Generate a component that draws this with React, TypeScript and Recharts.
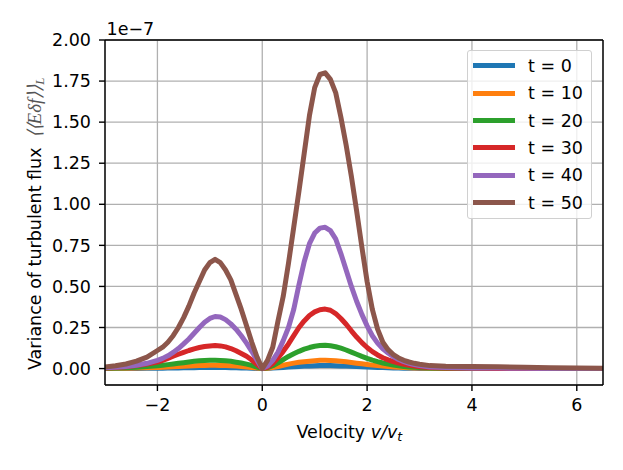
import React from "react";
import { LineChart, Line, XAxis, YAxis, CartesianGrid, ReferenceLine } from "recharts";

const velocity = [
  -3.0, -2.8, -2.6, -2.4, -2.2,
  -2.0, -1.9, -1.8, -1.7, -1.6, -1.5, -1.4, -1.3, -1.2, -1.1,
  -1.0, -0.9, -0.8, -0.7, -0.6, -0.5, -0.4, -0.3, -0.2, -0.1,
  0.0, 0.1, 0.2, 0.3, 0.4, 0.5, 0.6, 0.7, 0.8, 0.9,
  1.0, 1.1, 1.2, 1.3, 1.4, 1.5, 1.6, 1.7, 1.8, 1.9,
  2.0, 2.1, 2.2, 2.3, 2.4, 2.5, 2.6, 2.7, 2.8, 2.9,
  3.0, 3.2, 3.5, 4.0, 4.5, 5.0, 5.5, 6.0, 6.5,
];

const fluxT0 = [
  0.0003, 0.0005, 0.0008, 0.001, 0.0015,
  0.002, 0.0025, 0.003, 0.0035, 0.004, 0.0045, 0.005, 0.0055, 0.006, 0.006,
  0.0065, 0.0065, 0.006, 0.006, 0.0055, 0.005, 0.004, 0.003, 0.002, 0.001,
  0, 0.001, 0.003, 0.005, 0.007, 0.009, 0.011, 0.013, 0.015, 0.016,
  0.017, 0.018, 0.018, 0.018, 0.017, 0.016, 0.015, 0.014, 0.012, 0.011,
  0.009, 0.008, 0.007, 0.006, 0.005, 0.004, 0.003, 0.0025, 0.002, 0.0015,
  0.001, 0.0007, 0.0004, 0, 0, 0, 0, 0, 0,
];

const fluxT10 = [
  0.001, 0.0015, 0.002, 0.003, 0.005,
  0.007, 0.008, 0.0095, 0.011, 0.0125, 0.014, 0.0155, 0.017, 0.018, 0.019,
  0.0195, 0.0195, 0.019, 0.018, 0.017, 0.015, 0.013, 0.01, 0.007, 0.0035,
  0, 0.002, 0.007, 0.013, 0.02, 0.027, 0.033, 0.038, 0.042, 0.045,
  0.048, 0.05, 0.05, 0.049, 0.047, 0.044, 0.041, 0.037, 0.033, 0.029,
  0.025, 0.021, 0.018, 0.015, 0.012, 0.01, 0.008, 0.006, 0.005, 0.004,
  0.003, 0.002, 0.001, 0, 0, 0, 0, 0, 0,
];

const fluxT20 = [
  0.002, 0.003, 0.005, 0.008, 0.012,
  0.017, 0.02, 0.024, 0.028, 0.032, 0.036, 0.04, 0.044, 0.047, 0.049,
  0.05, 0.05, 0.049, 0.047, 0.044, 0.039, 0.034, 0.027, 0.019, 0.009,
  0, 0.005, 0.017, 0.035, 0.055, 0.074, 0.09, 0.105, 0.118, 0.128,
  0.136, 0.14, 0.142, 0.139, 0.133, 0.124, 0.113, 0.1, 0.087, 0.074,
  0.062, 0.051, 0.042, 0.034, 0.027, 0.022, 0.017, 0.013, 0.01, 0.008,
  0.006, 0.003, 0.002, 0.001, 0.001, 0, 0, 0, 0,
];

const fluxT30 = [
  0.004, 0.007, 0.011, 0.018, 0.028,
  0.04, 0.05, 0.062, 0.075, 0.087, 0.099, 0.11, 0.12, 0.128, 0.134,
  0.138, 0.14, 0.138, 0.132, 0.122, 0.108, 0.092, 0.075, 0.052, 0.025,
  0, 0.008, 0.03, 0.065, 0.105, 0.15, 0.2, 0.25, 0.29, 0.323,
  0.345, 0.358, 0.362, 0.355, 0.335, 0.305, 0.27, 0.23, 0.192, 0.158,
  0.128, 0.103, 0.083, 0.066, 0.053, 0.042, 0.033, 0.026, 0.02, 0.015,
  0.011, 0.006, 0.003, 0.002, 0.001, 0.001, 0.001, 0.001, 0.001,
];

const fluxT40 = [
  0.005, 0.008, 0.013, 0.02, 0.032,
  0.05, 0.062, 0.078, 0.098, 0.122, 0.15, 0.18, 0.215, 0.25, 0.282,
  0.305, 0.317, 0.314, 0.298, 0.272, 0.24, 0.2, 0.155, 0.105, 0.05,
  0, 0.015, 0.05, 0.1, 0.17, 0.25, 0.36, 0.51, 0.65, 0.76,
  0.825, 0.855, 0.86, 0.84, 0.79, 0.7, 0.6, 0.5, 0.41, 0.33,
  0.26, 0.2, 0.155, 0.12, 0.095, 0.073, 0.055, 0.042, 0.032, 0.024,
  0.018, 0.01, 0.006, 0.004, 0.003, 0.002, 0.001, 0.001, 0.001,
];

const fluxT50 = [
  0.01, 0.017, 0.028, 0.045, 0.07,
  0.11, 0.13, 0.16, 0.2, 0.25, 0.31, 0.38, 0.46, 0.53, 0.6,
  0.645, 0.665, 0.645, 0.6, 0.54, 0.45, 0.36, 0.26, 0.16, 0.07,
  0, 0.05, 0.13, 0.29, 0.44, 0.64, 0.86, 1.08, 1.31, 1.54,
  1.71, 1.79, 1.8, 1.76, 1.68, 1.53, 1.36, 1.17, 0.96, 0.74,
  0.53, 0.36, 0.24, 0.16, 0.115, 0.085, 0.065, 0.05, 0.04, 0.032,
  0.026, 0.018, 0.014, 0.013, 0.011, 0.008, 0.005, 0.003, 0.002,
];

const seriesNames = ["t = 0", "t = 10", "t = 20", "t = 30", "t = 40", "t = 50"];
const seriesKeys = ["t0", "t10", "t20", "t30", "t40", "t50"];
const seriesColors = ["#1f77b4", "#ff7f0e", "#2ca02c", "#d62728", "#9467bd", "#8c564b"];
const seriesValues = [fluxT0, fluxT10, fluxT20, fluxT30, fluxT40, fluxT50];

const xTicks = [-2, 0, 2, 4, 6];
const yTicks = [0, 0.25, 0.5, 0.75, 1.0, 1.25, 1.5, 1.75, 2.0];

const data = velocity.map((v, i) => {
  const row: Record<string, number> = { v };
  seriesKeys.forEach((k, s) => {
    row[k] = seriesValues[s][i];
  });
  return row;
});

const FONT = "'DejaVu Sans', sans-serif";
const FS = 17.5;

const fmtX = (v: number) => String(v).replace("-", "\u2212");
const fmtY = (v: number) => v.toFixed(2);

const XLabel = () => (
  <text x={296.5} y={437.5} fontFamily={FONT} fontSize={FS} fill="#000">
    Velocity <tspan fontStyle="italic">v</tspan>
    <tspan fontStyle="italic">/v</tspan>
    <tspan fontStyle="italic" fontSize={12.5} dy={3}>t</tspan>
  </text>
);

const YLabel = () => (
  <g>
    <text
      transform="translate(41,370) rotate(-90)"
      x={0}
      y={0}
      fontFamily={FONT}
      fontSize={FS}
      fill="#000"
    >
      Variance of turbulent flux
      <tspan dx={9} fontFamily="'Liberation Serif', serif" fontStyle="italic" fontSize={19} fill="#555">
        {"\u27E8\u27E8E\u03B4f\u27E9\u27E9"}
      </tspan>
      <tspan fontFamily="'Liberation Serif', serif" fontStyle="italic" fontSize={13} fill="#555" dy={3}>
        L
      </tspan>
    </text>
    <text x={106.5} y={35} fontFamily={FONT} fontSize={FS} fill="#000">
      1e{"\u2212"}7
    </text>
  </g>
);

const LegendBox = () => (
  <div
    style={{
      position: "absolute",
      left: 467,
      top: 50,
      width: 125,
      height: 169,
      boxSizing: "border-box",
      border: "1px solid #d0d0d0",
      borderRadius: 3,
      background: "rgba(255,255,255,0.8)",
      fontFamily: FONT,
      fontSize: FS,
      color: "#000",
    }}
  >
    {seriesNames.map((name, i) => (
      <div
        key={name}
        style={{
          position: "absolute",
          left: 0,
          top: 14.7 + i * 27.4 - 12,
          height: 24,
          display: "flex",
          alignItems: "center",
          whiteSpace: "nowrap",
        }}
      >
        <div style={{ marginLeft: 5, width: 42, height: 5, background: seriesColors[i] }} />
        <span style={{ marginLeft: 13, lineHeight: "24px" }}>{name}</span>
      </div>
    ))}
  </div>
);

export default function App() {
  return (
    <div style={{ position: "absolute", left: 0, top: 0, width: 623, height: 470, background: "#fff" }}>
      <LineChart
        width={623}
        height={470}
        data={data}
        margin={{ top: 40, right: 20, bottom: 0, left: 0 }}
      >
        <CartesianGrid stroke="#b0b0b0" strokeWidth={1.3} vertical horizontal />
        <XAxis
          dataKey="v"
          type="number"
          domain={[-3, 6.5]}
          ticks={xTicks}
          tickFormatter={fmtX}
          height={85}
          tickSize={6}
          tickMargin={8}
          stroke="#000"
          strokeWidth={1.4}
          tick={{ fontSize: FS, fill: "#000", fontFamily: FONT }}
          allowDataOverflow
          label={{ content: () => <XLabel /> }}
        />
        <YAxis
          type="number"
          domain={[-0.1, 2.0]}
          ticks={yTicks}
          tickFormatter={fmtY}
          width={105}
          tickSize={6}
          tickMargin={8}
          stroke="#000"
          strokeWidth={1.4}
          tick={{ fontSize: FS, fill: "#000", fontFamily: FONT }}
          allowDataOverflow
          label={{ content: () => <YLabel /> }}
        />
        {seriesKeys.map((k, i) => (
          <Line
            key={k}
            dataKey={k}
            name={seriesNames[i]}
            type="linear"
            stroke={seriesColors[i]}
            strokeWidth={5}
            strokeLinejoin="round"
            strokeLinecap="butt"
            dot={false}
            activeDot={false}
            isAnimationActive={false}
          />
        ))}
        <ReferenceLine y={2.0} stroke="#000" strokeWidth={1.4} />
        <ReferenceLine x={6.5} stroke="#000" strokeWidth={1.4} />
      </LineChart>
      <LegendBox />
    </div>
  );
}
